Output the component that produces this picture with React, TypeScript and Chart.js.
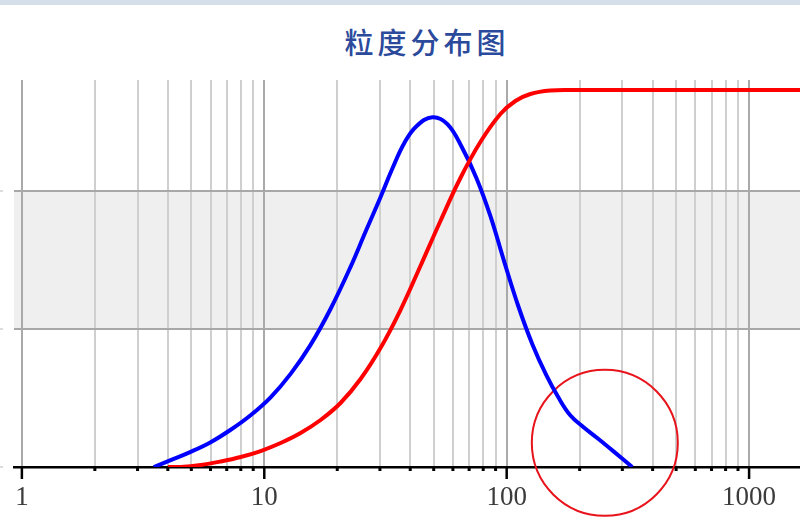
import React, { useEffect, useRef } from "react";
import { Chart, registerables } from "chart.js";

Chart.register(...registerables);

const titleText = "粒度分布图";

const xTickValues = [
  1, 2, 3, 4, 5, 6, 7, 8, 9,
  10, 20, 30, 40, 50, 60, 70, 80, 90,
  100, 200, 300, 400, 500, 600, 700, 800, 900,
  1000,
];
const xTickLabels = ["1", "10", "100", "1000"];

// frequency curve (blue): particle size (µm) vs volume %
const blueSizes = [
  3.5, 4.11, 4.97, 6.01, 7.27, 8.78, 10.62, 12.84, 15.52, 18.76, 22.69, 26.16,
  30.16, 33.8, 37.87, 42.44, 49.4, 56.95, 65.67, 74.99, 85.63, 97.81, 111.7,
  127.6, 145.7, 163.3, 182.9, 207.0, 236.4, 275.2, 329.5,
];
const blueValues = [
  0, 0.1, 0.22, 0.36, 0.54, 0.75, 1.01, 1.35, 1.77, 2.29, 2.9, 3.41,
  3.91, 4.33, 4.7, 4.94, 5.07, 4.97, 4.62, 4.19, 3.64, 2.97, 2.33,
  1.78, 1.33, 1.01, 0.75, 0.58, 0.42, 0.23, 0,
];

// cumulative curve (red): particle size (µm) vs cumulative %
const redSizes = [
  4.0, 4.52, 5.47, 6.61, 7.99, 9.66, 11.68, 14.11, 17.07, 20.63, 24.95, 30.16,
  36.46, 44.08, 53.29, 64.43, 77.88, 94.2, 108.6, 125.2, 151.3, 191.8, 300,
  600, 1000, 1800,
];
const redValues = [
  0, 0, 0.53, 1.46, 2.65, 4.24, 6.37, 9.02, 12.47, 16.98, 23.34, 31.56,
  41.64, 53.32, 65.25, 76.66, 86.21, 93.63, 97.08, 98.94, 99.87, 100, 100,
  100, 100, 100,
];

const yGridValues = [0, 2, 4];
const bandRange = [2, 4];
const circleCenter = { x: 254, y: 0.35 };

const X_MIN = 0.927;
const X_MAX = 1622;
const Y_MAX = 5.609;
const Y2_MAX = 102.65;

const isDecade = (v: number) => xTickLabels.includes(String(v));

export default function App() {
  const canvasRef = useRef<HTMLCanvasElement | null>(null);

  useEffect(() => {
    if (!canvasRef.current) return;

    const decorPlugin = {
      id: "decor",
      beforeDraw(chart: any) {
        const { ctx, chartArea, scales } = chart;
        const y = scales.y;
        const top = y.getPixelForValue(bandRange[1]);
        const bottom = y.getPixelForValue(bandRange[0]);
        ctx.save();
        ctx.fillStyle = "#efefef";
        ctx.fillRect(chartArea.left, top, chartArea.right - chartArea.left, bottom - top);
        ctx.strokeStyle = "#dcdcdc";
        ctx.lineWidth = 2;
        yGridValues.forEach((v) => {
          const py = y.getPixelForValue(v);
          ctx.beginPath();
          ctx.moveTo(0, py);
          ctx.lineTo(3, py);
          ctx.stroke();
        });
        ctx.restore();
      },
      beforeDatasetsDraw(chart: any) {
        const { ctx, scales } = chart;
        const cx = scales.x.getPixelForValue(circleCenter.x);
        const cy = scales.y.getPixelForValue(circleCenter.y);
        ctx.save();
        ctx.strokeStyle = "#e8141c";
        ctx.lineWidth = 2;
        ctx.beginPath();
        ctx.arc(cx, cy, 73, 0, Math.PI * 2);
        ctx.stroke();
        ctx.restore();
      },
      afterDraw(chart: any) {
        const { ctx, chartArea, scales } = chart;
        const x = scales.x;
        ctx.save();
        ctx.strokeStyle = "#000";
        xTickValues.forEach((v) => {
          const px = x.getPixelForValue(v);
          if (px < chartArea.left || px > chartArea.right) return;
          ctx.beginPath();
          if (isDecade(v)) {
            ctx.lineWidth = 2.5;
            ctx.moveTo(px, chartArea.bottom);
            ctx.lineTo(px, chartArea.bottom + 12);
          } else {
            ctx.lineWidth = 3;
            ctx.moveTo(px, chartArea.bottom);
            ctx.lineTo(px, chartArea.bottom + 4);
          }
          ctx.stroke();
        });
        ctx.restore();
      },
    };

    const chart = new Chart(canvasRef.current, {
      type: "line",
      data: {
        datasets: [
          {
            label: "累计",
            data: redSizes.map((s, i) => ({ x: s, y: redValues[i] })),
            yAxisID: "y2",
            borderColor: "#ff0000",
            borderWidth: 4,
            pointRadius: 0,
            fill: false,
            tension: 0.4,
          },
          {
            label: "频率",
            data: blueSizes.map((s, i) => ({ x: s, y: blueValues[i] })),
            yAxisID: "y",
            borderColor: "#0000ff",
            borderWidth: 4,
            pointRadius: 0,
            fill: false,
            tension: 0.4,
          },
        ],
      },
      options: {
        responsive: false,
        animation: false,
        layout: { padding: { top: 80, left: 13, right: 0, bottom: 0 } },
        plugins: {
          legend: { display: false },
          title: { display: false },
          tooltip: { enabled: false },
        },
        scales: {
          x: {
            type: "logarithmic",
            min: X_MIN,
            max: X_MAX,
            afterBuildTicks: (axis: any) => {
              axis.ticks = xTickValues.map((v) => ({ value: v }));
            },
            afterFit: (axis: any) => {
              axis.height = 50;
            },
            border: { display: true, color: "#000", width: 2.5 },
            grid: {
              drawTicks: false,
              lineWidth: 2,
              color: (c: any) => (c.tick && isDecade(c.tick.value) ? "#a9a9a9" : "#cfcfcf"),
            },
            ticks: {
              autoSkip: false,
              maxRotation: 0,
              minRotation: 0,
              padding: 15,
              color: "#3b3b3b",
              font: { family: "'Liberation Serif', 'DejaVu Serif', serif", size: 27 },
              callback: (value: any) => (isDecade(Number(value)) ? String(value) : ""),
            },
          },
          y: {
            type: "linear",
            min: 0,
            max: Y_MAX,
            afterBuildTicks: (axis: any) => {
              axis.ticks = yGridValues.map((v) => ({ value: v }));
            },
            afterFit: (axis: any) => {
              axis.width = 0;
            },
            border: { display: false },
            grid: { drawTicks: false, color: "#a8a8a8", lineWidth: 2 },
            ticks: { display: false },
          },
          y2: {
            type: "linear",
            min: 0,
            max: Y2_MAX,
            display: false,
          },
        },
      } as any,
      plugins: [decorPlugin],
    });

    return () => chart.destroy();
  }, []);

  return (
    <div style={{ position: "fixed", left: 0, top: 0, width: 800, height: 517, background: "#fff" }}>
      <div style={{ position: "absolute", left: 0, top: 0, width: 800, height: 5, background: "#d5dfea" }} />
      <div
        style={{
          position: "absolute",
          left: 327,
          top: 21,
          width: 200,
          textAlign: "center",
          fontFamily: "'Noto Sans CJK SC', sans-serif",
          fontSize: 29,
          fontWeight: 500,
          letterSpacing: 4,
          color: "#2b4a9b",
          lineHeight: "40px",
          whiteSpace: "nowrap",
        }}
      >
        {titleText}
      </div>
      <canvas ref={canvasRef} width={800} height={517} style={{ position: "absolute", left: 0, top: 0 }} />
    </div>
  );
}
